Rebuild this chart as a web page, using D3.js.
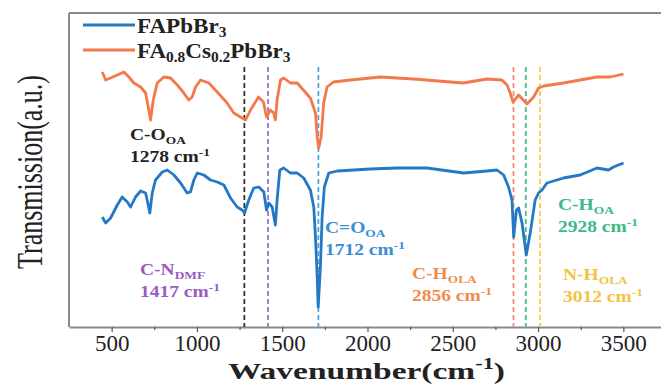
<!DOCTYPE html>
<html>
<head>
<meta charset="utf-8">
<script src="https://cdn.jsdelivr.net/npm/d3@7"></script>
<style>
  body { margin: 0; background: #fff; }
  svg text { font-family: "Liberation Serif", "DejaVu Serif", serif; }
</style>
</head>
<body>
<div id="chart"></div>
<script>
// FAPbBr3 (blue) - wavenumber (cm-1) and transmission (a.u.)
const waveFA = [445, 465, 494, 533, 562, 592, 611, 640, 670, 699, 712, 724, 738, 757, 797, 826, 865, 904, 943, 962,
  982, 1002, 1040, 1080, 1119, 1158, 1197, 1236, 1265, 1279, 1304, 1333, 1363, 1392, 1408, 1421, 1441, 1460, 1470, 1486,
  1509, 1548, 1588, 1626, 1665, 1685, 1695, 1705, 1711, 1724, 1734, 1747, 1773, 1822, 2017, 2173, 2349, 2563, 2700, 2759,
  2798, 2827, 2847, 2857, 2873, 2886, 2906, 2931, 2954, 2983, 3003, 3023, 3052, 3149, 3247, 3345, 3413, 3442, 3501];
const transFA = [110, 104, 109, 122, 130, 125, 120, 130, 136, 134, 124, 114, 134, 147, 155, 157, 152, 144, 134, 135,
  147, 154, 152, 147, 145, 142, 129, 120, 117, 114, 127, 139, 140, 135, 117, 124, 120, 102, 127, 157,
  159, 154, 154, 149, 137, 120, 90, 50, 20, 60, 110, 140, 154, 156, 158, 159, 159, 154, 156, 157,
  152, 140, 127, 90, 117, 119, 104, 72, 94, 127, 134, 137, 144, 149, 152, 159, 157, 160, 164];

// FA0.8Cs0.2PbBr3 (orange)
const waveCs = [445, 465, 494, 533, 572, 601, 630, 670, 699, 718, 728, 744, 767, 806, 845, 885, 923, 952, 972, 992,
  1021, 1070, 1119, 1177, 1216, 1255, 1285, 1314, 1361, 1390, 1408, 1431, 1450, 1460, 1470, 1490, 1509, 1548, 1588, 1624,
  1665, 1695, 1705, 1714, 1728, 1743, 1763, 1800, 1900, 2017, 2076, 2269, 2562, 2700, 2788, 2818, 2837, 2853, 2886, 2935,
  2974, 3003, 3032, 3149, 3345, 3423, 3501];
const transCs = [255, 247, 249, 252, 255, 250, 244, 240, 234, 217, 207, 227, 244, 250, 249, 242, 234, 227, 230, 240,
  247, 244, 235, 224, 214, 210, 207, 217, 230, 225, 210, 217, 214, 207, 227, 247, 249, 244, 244, 237,
  229, 214, 190, 179, 190, 224, 240, 245, 247, 249, 250, 248, 244, 248, 247, 242, 234, 225, 232, 223,
  230, 239, 241, 244, 250, 250, 253];

const xTicks = [500, 1000, 1500, 2000, 2500, 3000, 3500];
const xMinorTicks = [750, 1250, 1750, 2250, 2750, 3250];

// assigned bands
const peakPos = [1278, 1417, 1712, 2856, 2928, 3012];
const peakBond = [['C-O', 'OA'], ['C-N', 'DMF'], ['C=O', 'OA'], ['C-H', 'OLA'], ['C-H', 'OA'], ['N-H', 'OLA']];

const W = 661, H = 385;
const margin = { top: 13, left: 69, bottom: 327, right: 666 };

const svg = d3.select('#chart').append('svg')
  .attr('width', W)
  .attr('height', H);

const x = d3.scaleLinear().domain([250, 3750]).range([margin.left, margin.right]);
const y = d3.scaleLinear().domain([0, 314]).range([margin.bottom, margin.top]);

// frame (top + left)
svg.append('line')
  .attr('x1', margin.left).attr('x2', margin.right)
  .attr('y1', margin.top).attr('y2', margin.top)
  .style('stroke', '#8a8a8a').style('stroke-width', 2);
svg.append('line')
  .attr('x1', margin.left).attr('x2', margin.left)
  .attr('y1', margin.top).attr('y2', margin.bottom)
  .style('stroke', '#8a8a8a').style('stroke-width', 2);

// x axis
const xAxis = d3.axisBottom(x).tickValues(xTicks).tickSize(5).tickPadding(3)
  .tickSizeOuter(0).tickFormat(d3.format('d'));
const gX = svg.append('g')
  .attr('transform', 'translate(0,' + margin.bottom + ')')
  .call(xAxis);
gX.select('.domain').style('stroke', '#8a8a8a').style('stroke-width', 2);
gX.selectAll('.tick line').style('stroke', '#555').style('stroke-width', 1.2);
gX.selectAll('.tick text')
  .style('font-family', '"Liberation Serif", serif')
  .style('font-size', '23px')
  .style('fill', '#222');

const gMinor = svg.append('g')
  .attr('transform', 'translate(0,' + margin.bottom + ')')
  .call(d3.axisBottom(x).tickValues(xMinorTicks).tickSize(3).tickFormat(''));
gMinor.select('.domain').remove();
gMinor.selectAll('.tick line').style('stroke', '#555').style('stroke-width', 1.2);

// dashed marker lines
const peakColors = ['#333333', '#a071d2', '#4fa7e0', '#f28d70', '#4db88c', '#f6c64e'];
svg.selectAll('.peak')
  .data(peakPos)
  .enter()
  .append('line')
  .attr('class', 'peak')
  .attr('x1', d => x(d)).attr('x2', d => x(d))
  .attr('y1', y(260)).attr('y2', margin.bottom)
  .style('stroke', (d, i) => peakColors[i])
  .style('stroke-width', 1.8)
  .style('stroke-dasharray', '5,3');

// spectra
const line = d3.line()
  .x(d => x(d[0]))
  .y(d => y(d[1]));

const seriesColors = ['#2379c6', '#f4784a'];
const dataFA = waveFA.map((w, i) => [w, transFA[i]]);
const dataCs = waveCs.map((w, i) => [w, transCs[i]]);

svg.append('path')
  .datum(dataCs)
  .attr('d', line)
  .style('fill', 'none')
  .style('stroke', seriesColors[1])
  .style('stroke-width', 2.8)
  .style('stroke-linejoin', 'round');

svg.append('path')
  .datum(dataFA)
  .attr('d', line)
  .style('fill', 'none')
  .style('stroke', seriesColors[0])
  .style('stroke-width', 2.8)
  .style('stroke-linejoin', 'round');

// legend
const legend = svg.append('g');
[25, 50].forEach((ly, i) => {
  legend.append('line')
    .attr('x1', 83).attr('x2', 135)
    .attr('y1', ly).attr('y2', ly)
    .style('stroke', seriesColors[i])
    .style('stroke-width', 2.8);
});
const t1 = legend.append('text').attr('transform', 'translate(137,33) scale(1.1,1)')
  .style('font-size', '21px').style('font-weight', 'bold').style('fill', '#222');
t1.append('tspan').text('FAPbBr');
t1.append('tspan').attr('dy', 4).style('font-size', '14px').text('3');

const t2 = legend.append('text').attr('transform', 'translate(137,58) scale(1.1,1)')
  .style('font-size', '21px').style('font-weight', 'bold').style('fill', '#222');
t2.append('tspan').text('FA');
t2.append('tspan').attr('dy', 4).style('font-size', '14px').text('0.8');
t2.append('tspan').attr('dy', -4).text('Cs');
t2.append('tspan').attr('dy', 4).style('font-size', '14px').text('0.2');
t2.append('tspan').attr('dy', -4).text('PbBr');
t2.append('tspan').attr('dy', 4).style('font-size', '14px').text('3');

// annotations
const labelColors = ['#222222', '#9a5cc0', '#3a8ed4', '#f08c4c', '#3cb98a', '#f5c244'];
const labelPos = [[130, 140], [140, 275], [325, 233], [412, 279], [558, 210], [563, 280]];

peakPos.forEach((p, i) => {
  const [lx, ly] = labelPos[i];
  const g = svg.append('g')
    .attr('transform', 'translate(' + lx + ',' + ly + ') scale(1.22,1)')
    .style('fill', labelColors[i]).style('font-weight', 'bold');
  const a = g.append('text').attr('x', 0).attr('y', 0).style('font-size', '16px');
  a.append('tspan').text(peakBond[i][0]);
  a.append('tspan').attr('dy', 4).style('font-size', '11px').text(peakBond[i][1]);
  const b = g.append('text').attr('x', 0).attr('y', 22).style('font-size', '16px');
  b.append('tspan').text(p + ' cm');
  b.append('tspan').attr('dy', -6).style('font-size', '11px').text('-1');
});

// axis titles
const xt = svg.append('text')
  .attr('x', 228).attr('y', 379)
  .attr('textLength', 277)
  .attr('lengthAdjust', 'spacingAndGlyphs')
  .style('font-size', '24px').style('font-weight', 'bold').style('fill', '#222');
xt.append('tspan').text('Wavenumber(cm');
xt.append('tspan').attr('dy', -10).style('font-size', '16px').text('-1');
xt.append('tspan').attr('dy', 10).text(')');

svg.append('text')
  .attr('transform', 'translate(42,172) rotate(-90) scale(1,1.35)')
  .attr('text-anchor', 'middle')
  .style('font-size', '26px')
  .style('fill', '#222')
  .text('Transmission(a.u.)');
</script>
</body>
</html>
